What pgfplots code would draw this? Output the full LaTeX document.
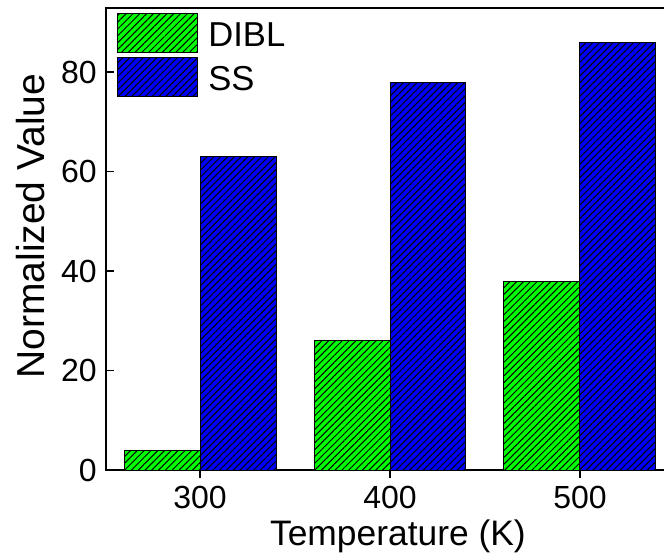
\documentclass[border=0pt]{standalone}
\usepackage{fontspec}
\setmainfont{Liberation Sans}
\usepackage{pgfplots}
\pgfplotsset{compat=1.18}
\usetikzlibrary{patterns.meta}
\definecolor{barG}{RGB}{0,255,0}
\definecolor{barB}{RGB}{0,0,250}
\begin{document}
\begin{tikzpicture}
\begin{axis}[
  name=ax,
  scale only axis, width=284pt, height=231pt,
  xmin=250.5, xmax=549.5, ymin=0, ymax=92.9,
  xtick={300,400,500}, ytick={0,20,40,60,80},
  xtick pos=bottom, ytick pos=left,
  tick align=inside, major tick length=4pt,
  axis line style={line width=1pt},
  every tick/.style={black, line width=0.8pt},
  /pgf/number format/assume math mode=true,
  ticklabel style={font=\fontsize{16}{16}\selectfont},
  xticklabel style={anchor=base, yshift=-15pt},
  yticklabel style={anchor=east, inner sep=0pt, xshift=-4.5pt},
  xlabel={Temperature (K)},
  ylabel={Normalized Value},
  xlabel style={font=\fontsize{17.7}{17.7}\selectfont, at={([yshift=-37.5pt]rel axis cs:0.514,0)}, anchor=base},
  ylabel style={font=\fontsize{19.5}{19.5}\selectfont, at={([xshift=-30.5pt]rel axis cs:0,0.528)}, anchor=base},
  ybar, bar width=40,
  legend image code/.code={\draw[#1] (0pt,-8.55pt) rectangle (40pt,10.95pt);},
  legend style={at={([xshift=5.5pt,yshift=-2.5pt]rel axis cs:0,1)}, anchor=north west,
    draw=none, fill=none, inner sep=0pt, row sep=2pt, column sep=5pt,
    nodes={inner sep=0pt}, font=\fontsize{17.3}{17.3}\selectfont},
  legend cell align=left,
]
\addplot[bar shift=-20, draw=black, line width=0.5pt, fill=barG,
  postaction={pattern={Lines[angle=45,distance=2.4pt,line width=0.5pt]}, pattern color=black}]
  coordinates {(300,4) (400,26) (500,38)};
\addlegendentry{DIBL}
\addplot[bar shift=20, draw=black, line width=0.5pt, fill=barB,
  postaction={pattern={Lines[angle=45,distance=2.4pt,line width=0.5pt]}, pattern color=black}]
  coordinates {(300,63) (400,78) (500,86)};
\addlegendentry{SS}
\end{axis}
\pgfresetboundingbox
\path[use as bounding box] ([xshift=-53pt,yshift=-42pt]ax.south west) rectangle ([xshift=-5pt,yshift=4pt]ax.north east);
\end{tikzpicture}
\end{document}
